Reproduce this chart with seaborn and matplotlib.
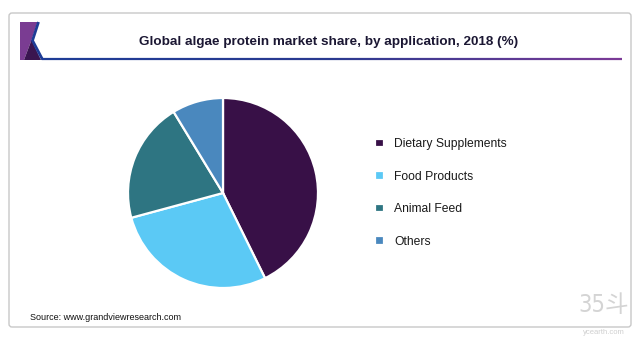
import numpy as np
import matplotlib
matplotlib.use("Agg")
import matplotlib.pyplot as plt
from matplotlib.patches import FancyBboxPatch, Polygon
from matplotlib.collections import LineCollection
from matplotlib.colors import LinearSegmentedColormap
import seaborn as sns

categories = ["Dietary Supplements", "Food Products", "Animal Feed", "Others"]
shares = [42.7, 28.1, 20.5, 8.7]
colors = ["#381047", "#5BC9F5", "#2E7582", "#4A88BE"]
title = "Global algae protein market share, by application, 2018 (%)"
source = "Source: www.grandviewresearch.com"

sns.set_theme(style="white")
plt.rcParams["font.family"] = ["Liberation Sans", "DejaVu Sans"]

W, H = 639, 343
fig = plt.figure(figsize=(W / 100, H / 100), dpi=100)
fig.patch.set_facecolor("white")

# full-figure overlay in pixel coordinates for the frame and header art
deco = fig.add_axes([0, 0, 1, 1])
deco.set_xlim(0, W)
deco.set_ylim(H, 0)
deco.axis("off")

frame = FancyBboxPatch((9, 13), 622, 314, boxstyle="round,pad=0,rounding_size=3",
                       facecolor="white", edgecolor="#c8c8c8", linewidth=1.0)
deco.add_patch(frame)

# logo
deco.add_patch(Polygon([(20, 22), (37.5, 22), (31.5, 40), (24, 60), (20, 60)],
                       closed=True, facecolor="#7A3C92", edgecolor="none"))
deco.add_patch(Polygon([(31.5, 40), (24, 60), (41, 60)],
                       closed=True, facecolor="#3A1550", edgecolor="none"))
deco.plot([38.5, 32.5, 42.5], [22, 40.5, 59.5], color="#1E3C96", linewidth=2.0,
          solid_capstyle="butt", solid_joinstyle="miter")

# header rule fading from blue to purple
xs = np.linspace(42, 622, 200)
pts = np.array([xs, np.full_like(xs, 59.3)]).T.reshape(-1, 1, 2)
segs = np.concatenate([pts[:-1], pts[1:]], axis=1)
cmap = LinearSegmentedColormap.from_list("rule", ["#1E3C96", "#2A3A90", "#7B3A96"])
lc = LineCollection(segs, colors=cmap(np.linspace(0, 1, len(segs))), linewidth=1.6)
deco.add_collection(lc)

deco.text(329, 41.5, title, ha="center", va="center", fontsize=9.7,
          fontweight="bold", color="#1B1733")
deco.text(30, 317, source, ha="left", va="center", fontsize=6.45, color="#111111")

# watermark
deco.text(604, 305, "35斗", ha="center", va="center", fontsize=17,
          color="#d4d4d4", family=["DejaVu Sans", "Noto Sans CJK SC"],
          fontstretch="condensed", fontweight="light")
deco.text(604, 332, "ycearth.com", ha="center", va="center", fontsize=5.5,
          color="#cfcfcf")

# pie
cx, cy, r = 223, 193, 95
ax = fig.add_axes([(cx - r) / W, (H - cy - r) / H, 2 * r / W, 2 * r / H])
wedges, _ = ax.pie(shares, colors=colors, startangle=90, counterclock=False,
                   wedgeprops=dict(edgecolor="white", linewidth=1.6))
ax.set_xlim(-1.0, 1.0)
ax.set_ylim(-1.0, 1.0)
ax.set_aspect("equal")
ax.axis("off")

fig.legend(wedges, categories, loc="upper left",
           bbox_to_anchor=(369 / W, 1 - 132 / H), frameon=False,
           fontsize=8.7, handlelength=0.7, handleheight=0.7,
           handletextpad=0.88, labelspacing=1.7, borderpad=0,
           labelcolor="#1a1a1a")

fig.savefig("out.png", dpi=100, facecolor="white")
